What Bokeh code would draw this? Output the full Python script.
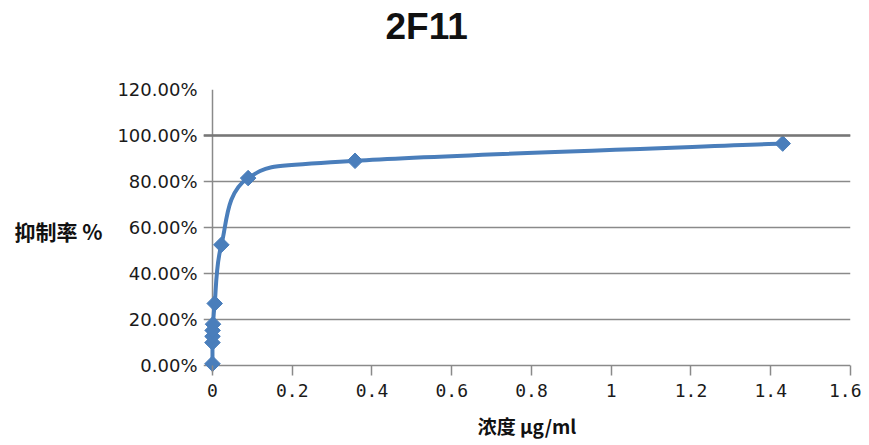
import math
from bokeh.plotting import figure
from bokeh.layouts import column
from bokeh.models import Range1d, NumeralTickFormatter, FixedTicker, Span
from bokeh.embed import file_html
from bokeh.resources import INLINE

# ---- data ----
title_text = "2F11"
y_label = "抑制率 %"
x_label = "浓度 μg/ml"

concentration = [0.0, 0.0000218, 0.0000873, 0.00035, 0.0014, 0.0056, 0.0223, 0.0894, 0.3575, 1.43]
inhibition = [0.008, 0.10, 0.127, 0.153, 0.18, 0.27, 0.525, 0.815, 0.89, 0.965]

x_ticks = [0, 0.2, 0.4, 0.6, 0.8, 1.0, 1.2, 1.4, 1.6]
y_ticks = [0, 0.2, 0.4, 0.6, 0.8, 1.0, 1.2]
reference_level = 1.0

LINE_COLOR = "#4a7ebb"
GRID_COLOR = "#8a8a8a"
TEXT_COLOR = "#111111"
W = 861

# ---- smoothed line (Catmull-Rom -> cubic Bezier), computed from the data ----
n = len(concentration)
pts = list(zip(concentration, inhibition))
x0s, y0s, x1s, y1s, cx0s, cy0s, cx1s, cy1s = ([] for _ in range(8))
for i in range(n - 1):
    p0 = pts[i - 1] if i > 0 else pts[i]
    p1 = pts[i]
    p2 = pts[i + 1]
    p3 = pts[i + 2] if i + 2 < n else pts[i + 1]
    x0s.append(p1[0]); y0s.append(p1[1])
    x1s.append(p2[0]); y1s.append(p2[1])
    cx0s.append(p1[0] + (p2[0] - p0[0]) / 6.0)
    cy0s.append(p1[1] + (p2[1] - p0[1]) / 6.0)
    cx1s.append(p2[0] - (p3[0] - p1[0]) / 6.0)
    cy1s.append(p2[1] - (p3[1] - p1[1]) / 6.0)

# ---- title strip ----
t = figure(width=W, height=60, title=title_text,
           x_axis_location=None, y_axis_location=None,
           output_backend="svg", toolbar_location=None,
           min_border_left=0, min_border_right=0, min_border_top=0, min_border_bottom=0)
t.outline_line_color = None
t.border_fill_color = "white"
t.background_fill_color = "white"
t.grid.visible = False
t.title.text_font = "Liberation Sans"
t.title.text_font_style = "bold"
t.title.text_font_size = "37px"
t.title.text_color = TEXT_COLOR
t.title.align = "left"
t.title.vertical_align = "top"
t.title.offset = 182
t.title.standoff = 10

# ---- main chart ----
p = figure(
    width=W, height=381, title=None,
    x_range=Range1d(-0.0225, 1.6), y_range=Range1d(-0.03, 1.2),
    output_backend="svg", toolbar_location=None,
    min_border_left=203, min_border_right=11,
    min_border_top=29, min_border_bottom=69,
)
p.outline_line_color = None
p.background_fill_color = "white"
p.border_fill_color = "white"

# grid lines (horizontal), plus the vertical line at x = 0 acting as the value axis
p.ygrid.ticker = FixedTicker(ticks=y_ticks)
p.ygrid.grid_line_color = GRID_COLOR
p.ygrid.grid_line_width = 1.5
p.xgrid.ticker = FixedTicker(ticks=x_ticks[:1])
p.xgrid.grid_line_color = GRID_COLOR
p.xgrid.grid_line_width = 1.5

p.add_layout(Span(location=reference_level, dimension="width",
                  line_color="#777777", line_width=2.5))

# y axis: labels only (grid lines stick out 9px left of x=0 as tick marks)
p.yaxis.ticker = FixedTicker(ticks=y_ticks)
p.yaxis.formatter = NumeralTickFormatter(format="0.00%")
p.yaxis.axis_line_color = None
p.yaxis.major_tick_line_color = None
p.yaxis.minor_tick_line_color = None
p.yaxis.major_tick_out = 0
p.yaxis.major_tick_in = 0
p.yaxis.major_label_text_font = "DejaVu Sans"
p.yaxis.major_label_text_font_size = "18px"
p.yaxis.major_label_text_color = "#1a1a1a"
p.yaxis.major_label_standoff = 6
p.yaxis.axis_label = y_label
p.yaxis.axis_label_orientation = "horizontal"
p.yaxis.axis_label_text_font = "Noto Sans CJK SC"
p.yaxis.axis_label_text_font_style = "bold"
p.yaxis.axis_label_text_font_size = "21px"
p.yaxis.axis_label_text_color = TEXT_COLOR
p.yaxis.axis_label_standoff = 12

# x axis: ticks hang from the 0 line down
p.xaxis.ticker = FixedTicker(ticks=x_ticks)
p.xaxis.formatter = NumeralTickFormatter(format="0.[0]")
p.xaxis.axis_line_color = None
p.xaxis.major_tick_line_color = GRID_COLOR
p.xaxis.major_tick_line_width = 1.5
p.xaxis.minor_tick_line_color = None
p.xaxis.major_tick_in = 7
p.xaxis.major_tick_out = 3
p.xaxis.major_label_text_font = "DejaVu Sans Mono"
p.xaxis.major_label_text_font_size = "18px"
p.xaxis.major_label_text_color = "#1a1a1a"
p.xaxis.major_label_standoff = 8
p.xaxis.axis_label = x_label
p.xaxis.axis_label_text_font = "Noto Sans CJK SC"
p.xaxis.axis_label_text_font_style = "bold"
p.xaxis.axis_label_text_font_size = "19px"
p.xaxis.axis_label_text_color = TEXT_COLOR
p.xaxis.axis_label_standoff = 12

# data
p.bezier(x0=x0s, y0=y0s, x1=x1s, y1=y1s, cx0=cx0s, cy0=cy0s, cx1=cx1s, cy1=cy1s,
         line_color=LINE_COLOR, line_width=4)
p.scatter(concentration, inhibition, marker="square", angle=math.pi / 4, size=11,
          fill_color=LINE_COLOR, line_color=LINE_COLOR)

layout = column(t, p, spacing=0)
open("out.html", "w").write(file_html(layout, INLINE))
